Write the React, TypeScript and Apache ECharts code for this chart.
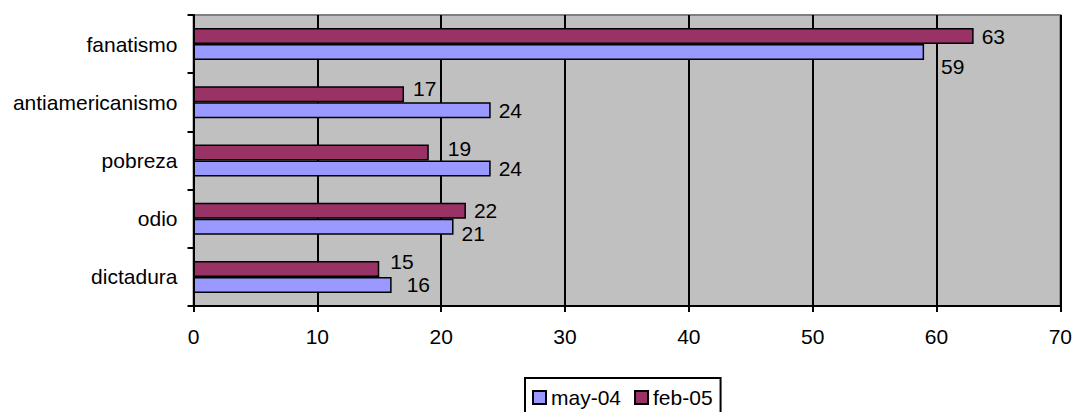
import React, { useEffect, useRef } from "react";
import * as echarts from "echarts";

const categories = ["dictadura", "odio", "pobreza", "antiamericanismo", "fanatismo"];
const may04 = [16, 21, 24, 24, 59];
const feb05 = [15, 22, 19, 17, 63];
const xTicks = [0, 10, 20, 30, 40, 50, 60, 70];

// label nudges [dx, dy] (style only)
const may04Nudge = [[7, 0], [0, 7], [0, 0], [0, 0], [9, 14]];
const feb05Nudge = [[3, -7], [0, 0], [11, -4], [1, -6], [0, 0]];

const FONT = "Liberation Sans";

export default function App() {
  const ref = useRef<HTMLDivElement>(null);
  useEffect(() => {
    if (!ref.current) return;
    const chart = echarts.init(ref.current, null, { renderer: "svg" });
    const mk = (vals: number[], nudges: number[][]) =>
      vals.map((v, i) => ({
        value: v,
        label: { offset: nudges[i] },
      }));
    const labelCfg = {
      show: true,
      position: "right",
      distance: 8,
      color: "#000",
      fontSize: 21,
      fontFamily: FONT,
    };
    chart.setOption({
      animation: false,
      grid: {
        left: 193.5,
        right: 14.5,
        top: 15,
        bottom: 106,
        show: true,
        backgroundColor: "#C0C0C0",
        borderColor: "#808080",
        borderWidth: 2,
      },
      legend: {
        data: ["may-04", "feb-05"],
        left: 525,
        top: 378,
        orient: "horizontal",
        padding: [9, 8, 30, 7],
        itemWidth: 13,
        itemHeight: 13,
        itemGap: 13,
        borderColor: "#000",
        borderWidth: 2,
        textStyle: { color: "#000", fontSize: 21, fontFamily: FONT },
        icon: "rect",
      },
      xAxis: {
        type: "value",
        min: xTicks[0],
        max: xTicks[xTicks.length - 1],
        interval: 10,
        axisLine: { show: true, lineStyle: { color: "#000", width: 2 } },
        axisTick: { show: true, length: 6, lineStyle: { color: "#000", width: 2 } },
        splitLine: { show: true, lineStyle: { color: "#000", width: 2 } },
        axisLabel: { color: "#000", fontSize: 21, fontFamily: FONT, margin: 20 },
      },
      yAxis: {
        type: "category",
        data: categories,
        axisLine: { show: true, lineStyle: { color: "#000", width: 2 } },
        axisTick: { show: true, length: 6, lineStyle: { color: "#000", width: 2 } },
        axisLabel: { color: "#000", fontSize: 21, fontFamily: FONT, margin: 16 },
      },
      series: [
        {
          name: "feb-05",
          type: "bar",
          data: mk(feb05, feb05Nudge),
          barWidth: 16,
          barGap: "0%",
          itemStyle: { color: "#993366", borderColor: "#000", borderWidth: 1.5 },
          label: labelCfg,
        },
        {
          name: "may-04",
          type: "bar",
          data: mk(may04, may04Nudge),
          barWidth: 16,
          barGap: "0%",
          itemStyle: { color: "#9999FF", borderColor: "#000", borderWidth: 1.5 },
          label: labelCfg,
        },
      ],
    });
    return () => chart.dispose();
  }, []);
  return <div ref={ref} style={{ width: 1075, height: 412, position: "absolute", left: 0, top: 0 }} />;
}
